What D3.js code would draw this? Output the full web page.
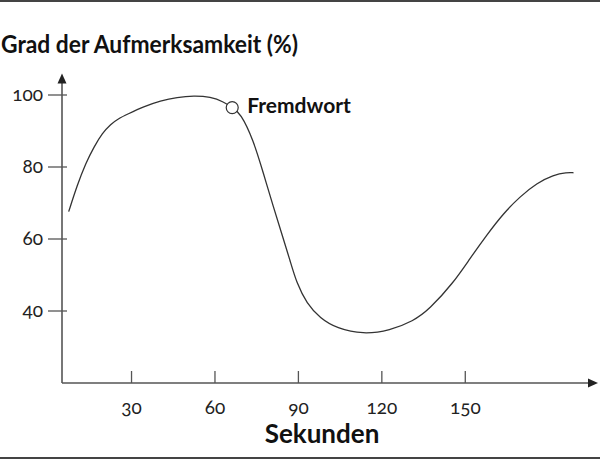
<!DOCTYPE html>
<html>
<head>
<meta charset="utf-8">
<script src="https://cdn.jsdelivr.net/npm/d3@7"></script>
<style>
  body { margin: 0; background: #fff; }
  svg { display: block; font-family: Lato, "Open Sans", sans-serif; }
  .tick-label { font-variant-numeric: oldstyle-nums; font-feature-settings: "onum"; }
</style>
</head>
<body>
<svg id="chart" width="600" height="459"></svg>
<script>
// Aufmerksamkeitskurve (Sekunden, Prozent)
var seconds   = [7.4, 10.5, 13.5, 16.5, 19.5, 22.5, 25.4, 28.4, 34.4, 40.4, 46.4, 52.4, 58.4, 63.2, 66.2,
                 69.2, 73.8, 77.4, 81.0, 84.6, 87.0, 89.4, 93.0, 97.8, 103.8, 113.3, 122.9, 131.3, 137.0,
                 145.7, 151.7, 157.7, 163.7, 169.7, 175.7, 181.7, 186.5, 188.9];
var attention = [67.6, 75.0, 81.0, 85.6, 89.4, 91.9, 93.5, 94.6, 96.8, 98.4, 99.4, 99.8, 99.5, 98.1, 96.5,
                 95.0, 87.5, 78.3, 68.9, 60.0, 54.0, 47.7, 42.1, 38.0, 35.2, 33.5, 34.6, 37.2, 40.4,
                 47.8, 54.6, 61.1, 67.1, 71.8, 75.5, 77.8, 78.5, 78.4];
var xTicks = [30, 60, 90, 120, 150];
var yTicks = [40, 60, 80, 100];
var marker = { x: 66.2, y: 96.5, label: "Fremdwort" };

var svg = d3.select("#chart"),
    width = +svg.attr("width"),
    height = +svg.attr("height");

var x = d3.scaleLinear().domain([5, 197]).range([62, 596]);
var y = d3.scaleLinear().domain([20, 106]).range([383, 73.4]);

var axisColor = "#555";

// Rahmenlinien oben/unten
svg.append("line").attr("x1", 0).attr("x2", width).attr("y1", 1).attr("y2", 1)
    .attr("stroke", "#444").attr("stroke-width", 2);
svg.append("line").attr("x1", 0).attr("x2", width).attr("y1", 458).attr("y2", 458)
    .attr("stroke", "#444").attr("stroke-width", 2);

// Titel
svg.append("text")
    .attr("x", 1).attr("y", 53)
    .attr("font-size", 24).attr("font-weight", "bold").attr("fill", "#111")
    .attr("textLength", 297).attr("lengthAdjust", "spacingAndGlyphs")
    .text("Grad der Aufmerksamkeit (%)");

var g = svg.append("g");

// Achsen
var x0 = x.range()[0], y0 = y.range()[0];
g.append("line").attr("x1", x0).attr("x2", x.range()[1] - 6).attr("y1", y0).attr("y2", y0)
    .attr("stroke", axisColor).attr("stroke-width", 1.6);
g.append("line").attr("x1", x0).attr("x2", x0).attr("y1", y0).attr("y2", y.range()[1] + 6)
    .attr("stroke", axisColor).attr("stroke-width", 1.6);

// Pfeilspitzen
var xe = x.range()[1] + 2, ye = y.range()[1];
g.append("path").attr("d", "M" + xe + "," + y0 + "L" + (xe - 10) + "," + (y0 - 4.5) + "L" + (xe - 10) + "," + (y0 + 4.5) + "Z")
    .attr("fill", "#222");
g.append("path").attr("d", "M" + x0 + "," + ye + "L" + (x0 - 4.5) + "," + (ye + 10) + "L" + (x0 + 4.5) + "," + (ye + 10) + "Z")
    .attr("fill", "#222");

// Y-Ticks
var yt = g.selectAll(".ytick").data(yTicks).enter().append("g")
    .attr("transform", function(d) { return "translate(0," + y(d) + ")"; });
yt.append("line").attr("x1", x0 - 14).attr("x2", x0 + 5)
    .attr("stroke", axisColor).attr("stroke-width", 1.3);
yt.append("text").attr("class", "tick-label")
    .attr("x", x0 - 19).attr("dy", 6)
    .attr("text-anchor", "end").attr("font-size", 19).attr("fill", "#222")
    .text(function(d) { return d; });

// X-Ticks
var xt = g.selectAll(".xtick").data(xTicks).enter().append("g")
    .attr("transform", function(d) { return "translate(" + x(d) + ",0)"; });
xt.append("line").attr("y1", y0).attr("y2", y0 - 12)
    .attr("stroke", axisColor).attr("stroke-width", 1.3);
xt.append("text").attr("class", "tick-label")
    .attr("y", 414)
    .attr("text-anchor", "middle").attr("font-size", 19).attr("fill", "#222")
    .text(function(d) { return d; });

// Achsentitel
svg.append("text")
    .attr("x", 322).attr("y", 443)
    .attr("text-anchor", "middle")
    .attr("font-size", 26).attr("font-weight", "bold").attr("fill", "#111")
    .text("Sekunden");

// Kurve
var line = d3.line()
    .x(function(d, i) { return x(seconds[i]); })
    .y(function(d) { return y(d); })
    .curve(d3.curveBasis);

g.append("path")
    .datum(attention)
    .attr("fill", "none")
    .attr("stroke", "#333")
    .attr("stroke-width", 1.3)
    .attr("d", line);

// Markierung
g.append("circle")
    .attr("cx", x(marker.x)).attr("cy", y(marker.y)).attr("r", 6)
    .attr("fill", "#fff").attr("stroke", "#333").attr("stroke-width", 1.2);
g.append("text")
    .attr("x", x(marker.x) + 15).attr("y", y(marker.y) + 5)
    .attr("font-size", 21).attr("font-weight", "bold").attr("fill", "#111")
    .text(marker.label);
</script>
</body>
</html>
